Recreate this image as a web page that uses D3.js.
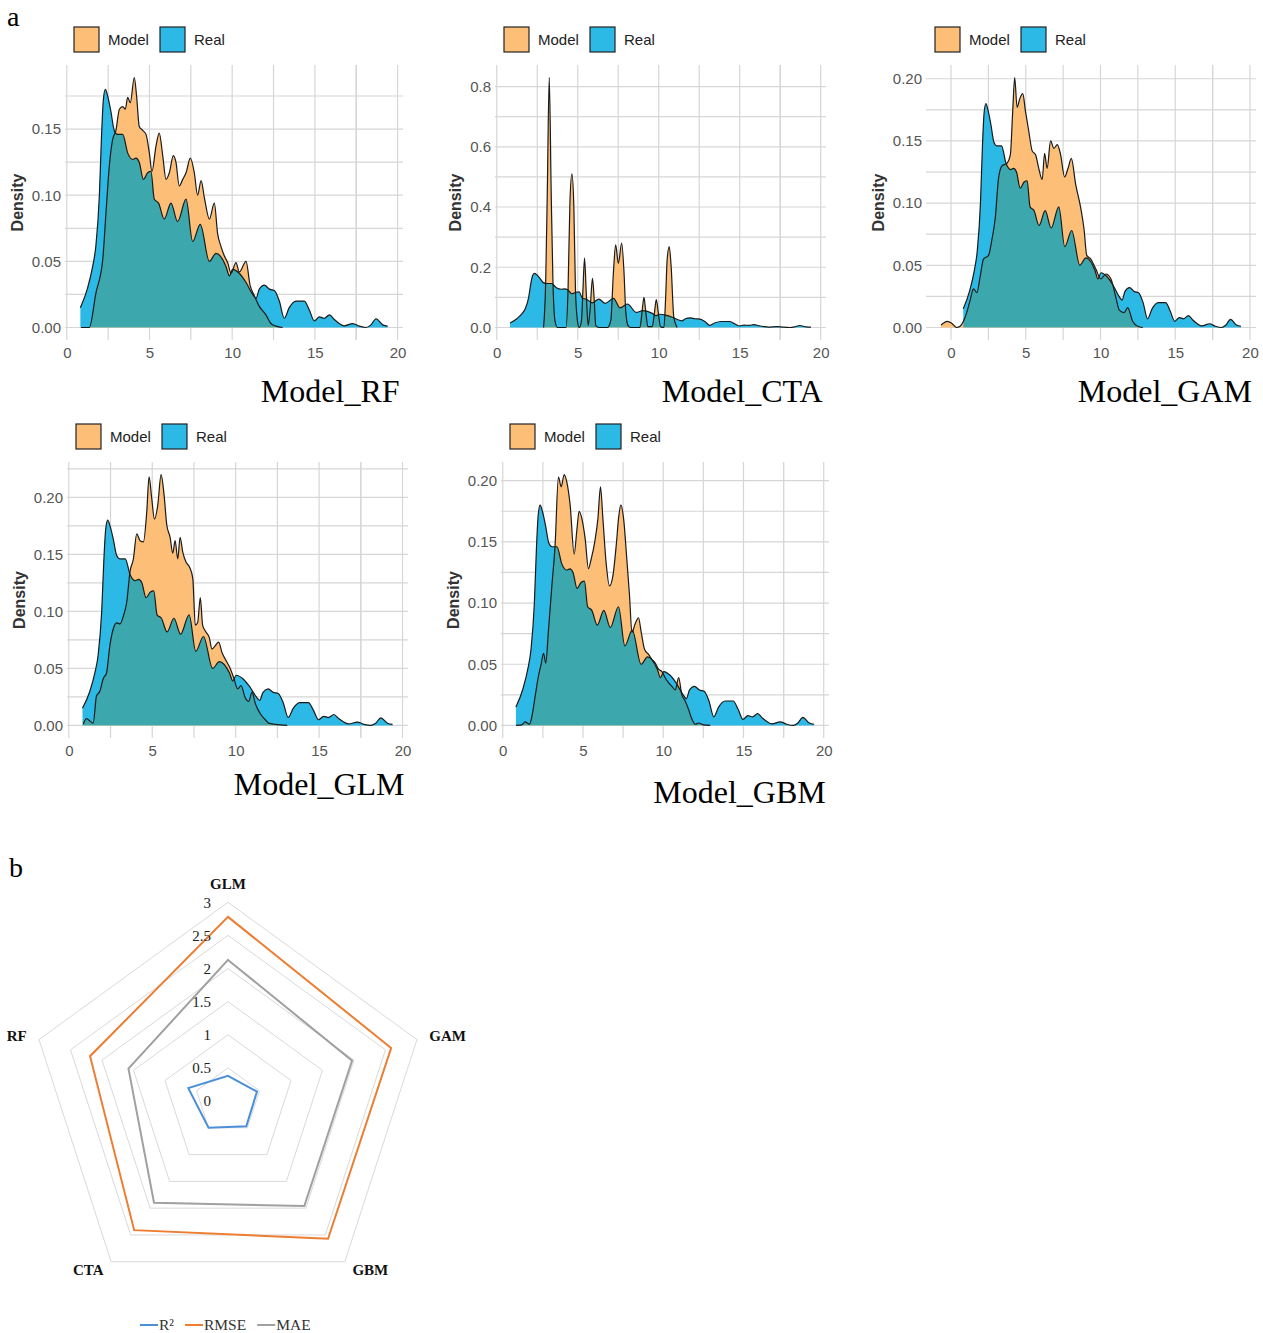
<!DOCTYPE html>
<html>
<head>
<meta charset="utf-8">
<script src="https://cdn.jsdelivr.net/npm/d3@7"></script>
<style>
  body { margin: 0; background: #fff; }
  svg { display: block; }
</style>
</head>
<body>
<svg id="chart" width="1263" height="1333"></svg>
<script>
// ---- data ----
// observed (Real) density, same in every panel: [x, density]
var realDensity = [
  [0.82, 0.015], [1.26, 0.030], [1.56, 0.046], [1.76, 0.062], [1.97, 0.100], [2.10, 0.145],
  [2.21, 0.172], [2.33, 0.180], [2.47, 0.175], [2.67, 0.163], [2.87, 0.149], [3.07, 0.146],
  [3.38, 0.146], [3.68, 0.132], [3.98, 0.127], [4.18, 0.128], [4.38, 0.125], [4.63, 0.112],
  [4.89, 0.117], [5.09, 0.118], [5.29, 0.097], [5.55, 0.094], [5.89, 0.082], [6.30, 0.094],
  [6.70, 0.080], [7.21, 0.097], [7.61, 0.065], [8.07, 0.078], [8.62, 0.050], [9.02, 0.056],
  [9.63, 0.046], [9.83, 0.039], [10.03, 0.044], [10.43, 0.041], [10.84, 0.034], [11.24, 0.025],
  [11.44, 0.022], [11.64, 0.029], [11.95, 0.032], [12.25, 0.029], [12.55, 0.028], [12.85, 0.020],
  [13.15, 0.007], [13.45, 0.015], [13.86, 0.020], [14.36, 0.020], [14.67, 0.013], [14.97, 0.005],
  [15.27, 0.008], [15.57, 0.007], [15.88, 0.0096], [16.18, 0.006], [16.48, 0.003], [16.78, 0.0013],
  [17.29, 0.003], [17.69, 0.001], [18.09, 0.0], [18.39, 0.002], [18.70, 0.0066], [19.10, 0.002],
  [19.40, 0.001]
]

var modelRF = [
  [0.86, 0], [1.36, 0], [1.76, 0.026], [2.17, 0.051], [2.37, 0.087], [2.57, 0.122], [2.77, 0.142],
  [2.97, 0.149], [3.18, 0.165], [3.38, 0.167], [3.54, 0.165], [3.68, 0.174], [3.84, 0.170],
  [4.08, 0.189], [4.22, 0.175], [4.38, 0.152], [4.59, 0.149], [4.79, 0.146], [4.99, 0.132],
  [5.15, 0.118], [5.39, 0.137], [5.59, 0.147], [5.80, 0.130], [6.00, 0.112], [6.20, 0.117],
  [6.44, 0.130], [6.60, 0.125], [6.80, 0.107], [7.01, 0.112], [7.21, 0.117], [7.47, 0.128],
  [7.71, 0.117], [7.91, 0.100], [8.12, 0.111], [8.32, 0.098], [8.62, 0.082], [8.92, 0.094],
  [9.12, 0.071], [9.33, 0.061], [9.53, 0.054], [9.73, 0.049], [9.93, 0.041], [10.23, 0.049],
  [10.43, 0.042], [10.84, 0.050], [11.08, 0.032], [11.34, 0.024], [11.64, 0.016], [12.04, 0.0096],
  [12.34, 0.003], [12.65, 0.001], [13.05, 0]
]

var modelCTA = [
  [2.89, 0], [3.02, 0.15], [3.12, 0.45], [3.24, 0.83], [3.36, 0.45], [3.47, 0.15], [3.60, 0.02],
  [3.75, 0], [4.27, 0], [4.40, 0.124], [4.52, 0.42], [4.64, 0.51], [4.76, 0.40], [4.86, 0.124],
  [4.98, 0.023], [5.09, 0], [5.23, 0.023], [5.32, 0.124], [5.42, 0.23], [5.53, 0.11], [5.64, 0.007],
  [5.76, 0.057], [5.91, 0.163], [6.02, 0.09], [6.11, 0.007], [6.32, 0], [6.83, 0], [7.04, 0.023],
  [7.20, 0.18], [7.34, 0.274], [7.51, 0.213], [7.71, 0.28], [7.86, 0.18], [7.96, 0.057],
  [8.10, 0.007], [8.27, 0], [8.84, 0], [8.98, 0.057], [9.09, 0.10], [9.19, 0.057], [9.33, 0.003],
  [9.60, 0.003], [9.74, 0.051], [9.85, 0.093], [9.97, 0.051], [10.11, 0.003], [10.32, 0],
  [10.42, 0.09], [10.52, 0.224], [10.65, 0.269], [10.77, 0.20], [10.93, 0.035], [11.14, 0]
]

var modelGAM = [
  [-0.67, 0.002], [-0.25, 0.005], [0.04, 0.0035], [0.38, 0], [0.61, 0.001], [0.83, 0.005],
  [1.05, 0.012], [1.28, 0.022], [1.50, 0.031], [1.73, 0.028], [1.95, 0.041], [2.17, 0.055],
  [2.51, 0.058], [2.74, 0.071], [2.96, 0.088], [3.18, 0.120], [3.41, 0.130], [3.74, 0.132],
  [3.97, 0.139], [4.12, 0.172], [4.26, 0.201], [4.42, 0.177], [4.60, 0.184], [4.80, 0.188],
  [4.98, 0.174], [5.20, 0.158], [5.43, 0.142], [5.65, 0.139], [5.87, 0.128], [6.10, 0.119],
  [6.26, 0.140], [6.43, 0.128], [6.66, 0.150], [6.88, 0.144], [7.11, 0.147], [7.33, 0.139],
  [7.60, 0.121], [7.83, 0.128], [8.05, 0.136], [8.34, 0.115], [8.68, 0.096], [8.90, 0.079],
  [9.08, 0.058], [9.35, 0.055], [9.69, 0.047], [10.02, 0.039], [10.36, 0.043], [10.70, 0.039],
  [11.03, 0.024], [11.26, 0.014], [11.59, 0.012], [11.82, 0.016], [12.15, 0.005], [12.49, 0.001],
  [12.83, 0]
]

var modelGLM = [
  [0.86, 0.001], [1.06, 0.006], [1.26, 0.004], [1.46, 0.002], [1.66, 0.026], [1.86, 0.030],
  [2.06, 0.041], [2.26, 0.046], [2.46, 0.070], [2.67, 0.085], [2.87, 0.090], [3.07, 0.089],
  [3.27, 0.096], [3.47, 0.108], [3.67, 0.135], [3.87, 0.146], [4.07, 0.168], [4.27, 0.162],
  [4.47, 0.161], [4.67, 0.187], [4.81, 0.218], [4.97, 0.199], [5.13, 0.181], [5.33, 0.193],
  [5.53, 0.220], [5.71, 0.202], [5.87, 0.176], [6.07, 0.165], [6.23, 0.151], [6.37, 0.162],
  [6.53, 0.146], [6.67, 0.165], [6.83, 0.152], [7.03, 0.143], [7.23, 0.139], [7.43, 0.129],
  [7.58, 0.088], [7.72, 0.090], [7.88, 0.112], [8.02, 0.088], [8.22, 0.082], [8.42, 0.077],
  [8.58, 0.067], [8.78, 0.070], [8.98, 0.073], [9.18, 0.064], [9.38, 0.058], [9.64, 0.051],
  [9.88, 0.042], [10.12, 0.032], [10.32, 0.035], [10.58, 0.024], [10.78, 0.021], [10.98, 0.029],
  [11.18, 0.019], [11.49, 0.010], [11.78, 0.005], [11.98, 0.002], [12.38, 0.001], [13.09, 0]
]

var modelGBM = [
  [0.83, 0], [1.19, 0.0005], [1.39, 0.003], [1.66, 0.001], [1.81, 0.007], [2.02, 0.024],
  [2.22, 0.040], [2.39, 0.050], [2.54, 0.059], [2.68, 0.051], [2.85, 0.078], [3.06, 0.114],
  [3.26, 0.147], [3.47, 0.203], [3.64, 0.195], [3.83, 0.205], [3.99, 0.199], [4.20, 0.180],
  [4.45, 0.140], [4.62, 0.160], [4.76, 0.175], [4.93, 0.169], [5.14, 0.152], [5.34, 0.128],
  [5.51, 0.136], [5.72, 0.149], [5.93, 0.169], [6.09, 0.195], [6.24, 0.169], [6.44, 0.133],
  [6.65, 0.114], [6.86, 0.122], [7.07, 0.147], [7.23, 0.171], [7.36, 0.180], [7.53, 0.169],
  [7.73, 0.136], [7.90, 0.106], [8.05, 0.076], [8.25, 0.083], [8.46, 0.088], [8.63, 0.076],
  [8.84, 0.062], [9.09, 0.058], [9.29, 0.054], [9.50, 0.051], [9.71, 0.046], [9.92, 0.044],
  [10.12, 0.039], [10.33, 0.035], [10.54, 0.032], [10.75, 0.029], [10.96, 0.039], [11.16, 0.025],
  [11.37, 0.020], [11.58, 0.013], [11.79, 0.005], [12.00, 0.001], [12.20, 0.002], [12.52, 0.0005],
  [12.93, 0]
]

var panelNames = ['Model_RF', 'Model_CTA', 'Model_GAM', 'Model_GLM', 'Model_GBM']
var modelSeries = [modelRF, modelCTA, modelGAM, modelGLM, modelGBM]
var xTickValues = [0, 5, 10, 15, 20]
var yTickValues = [
  [0, 0.05, 0.1, 0.15],
  [0, 0.2, 0.4, 0.6, 0.8],
  [0, 0.05, 0.1, 0.15, 0.2],
  [0, 0.05, 0.1, 0.15, 0.2],
  [0, 0.05, 0.1, 0.15, 0.2]
]
var yTickFormats = ['.2f', '.1f', '.2f', '.2f', '.2f']
var legendLabels = ['Model', 'Real']

// radar (panel b)
var radarAxes = ['GLM', 'GAM', 'GBM', 'CTA', 'RF']
var radarLevels = [0, 0.5, 1, 1.5, 2, 2.5, 3]
var r2Values = [0.38, 0.46, 0.47, 0.50, 0.63]
var rmseValues = [2.78, 2.59, 2.57, 2.41, 2.19]
var maeValues = [2.13, 1.97, 1.96, 1.90, 1.58]
var metricNames = ['R²', 'RMSE', 'MAE']

// ---- layout / style ----
var panelBoxes = [
  { left: 65, right: 403, top: 65, bottom: 340, titleY: 402 },
  { left: 495, right: 826, top: 65, bottom: 340, titleY: 402 },
  { left: 926, right: 1256, top: 65, bottom: 340, titleY: 402 },
  { left: 67, right: 408, top: 462, bottom: 738, titleY: 795 },
  { left: 501, right: 829, top: 462, bottom: 738, titleY: 803 }
]
var COLOR = {
  MODEL: '#fdbf78',
  REAL: '#2cb9e5',
  BOTH: '#3ca7ad',
  GRID: '#d6d6d6',
  TICK: '#555555'
}
var SANS = 'Arial, "Liberation Sans", sans-serif'
var SERIF = '"Times New Roman", "Liberation Serif", serif'

var svg = d3.select('#chart')

svg.append('text').attr('x', 7).attr('y', 26)
  .style('font-family', SERIF).style('font-size', '28px').text('a')
svg.append('text').attr('x', 9).attr('y', 877)
  .style('font-family', SERIF).style('font-size', '28px').text('b')

// ---- density panels ----
panelNames.forEach(function (name, i) {
  var box = panelBoxes[i]
  var model = modelSeries[i]
  var all = realDensity.concat(model)

  var xExt = d3.extent(all, d => d[0])
  var xPad = (xExt[1] - xExt[0]) * 0.05
  var yMax = d3.max(all, d => d[1])

  var x = d3.scaleLinear()
    .domain([xExt[0] - xPad, xExt[1] + xPad])
    .range([box.left, box.right])
  var y = d3.scaleLinear()
    .domain([-yMax * 0.05, yMax * 1.05])
    .range([box.bottom, box.top])

  var g = svg.append('g')

  // grid (major + minor)
  var xd = x.domain(), yd = y.domain()
  var xMinor = xTickValues.map(v => v - 2.5).concat([17.5]).filter(v => v >= xd[0] && v <= xd[1])
  var xMajor = xTickValues.filter(v => v >= xd[0] && v <= xd[1])
  var yt = yTickValues[i]
  var yStep = yt[1] - yt[0]
  var yMinor = yt.map(v => v + yStep / 2).filter(v => v <= yd[1])

  g.selectAll('.vgrid').data(xMinor.concat(xMajor)).enter().append('line')
    .attr('x1', d => x(d)).attr('x2', d => x(d))
    .attr('y1', box.top).attr('y2', box.bottom)
    .attr('stroke', COLOR.GRID).attr('stroke-width', 1.2)
  g.selectAll('.hgrid').data(yMinor.concat(yt)).enter().append('line')
    .attr('x1', box.left).attr('x2', box.right)
    .attr('y1', d => y(d)).attr('y2', d => y(d))
    .attr('stroke', COLOR.GRID).attr('stroke-width', 1.2)

  // areas
  var area = d3.area().x(d => x(d[0])).y0(y(0)).y1(d => y(d[1])).curve(d3.curveMonotoneX)
  var line = d3.line().x(d => x(d[0])).y(d => y(d[1])).curve(d3.curveMonotoneX)

  var clipId = 'real-clip-' + i
  svg.append('clipPath').attr('id', clipId)
    .append('path').attr('d', area(realDensity))

  g.append('path').attr('d', area(realDensity)).attr('fill', COLOR.REAL)
  g.append('path').attr('d', area(model)).attr('fill', COLOR.MODEL)
  g.append('path').attr('d', area(model)).attr('fill', COLOR.BOTH)
    .attr('clip-path', 'url(#' + clipId + ')')

  g.append('path').attr('d', line(realDensity))
    .attr('fill', 'none').attr('stroke', '#1a1a1a').attr('stroke-width', 1.2)
  g.append('path').attr('d', line(model))
    .attr('fill', 'none').attr('stroke', '#1a1a1a').attr('stroke-width', 1.2)

  // axes (no lines, labels only)
  var xAxis = g.append('g')
    .attr('transform', 'translate(0,' + box.bottom + ')')
    .call(d3.axisBottom(x).tickValues(xTickValues).tickSize(0).tickPadding(7))
  xAxis.select('.domain').remove()

  var yAxis = g.append('g')
    .attr('transform', 'translate(' + box.left + ',0)')
    .call(d3.axisLeft(y).tickValues(yt).tickFormat(d3.format(yTickFormats[i])).tickSize(0).tickPadding(4))
  yAxis.select('.domain').remove()

  g.selectAll('.tick text')
    .style('font-family', SANS).style('font-size', '15px').attr('fill', COLOR.TICK)

  var yb = yAxis.node().getBBox()
  var labX = box.left + yb.x - 9
  g.append('text')
    .attr('transform', 'translate(' + labX + ',' + (box.top + box.bottom) / 2 + ') rotate(-90)')
    .attr('text-anchor', 'middle')
    .style('font-family', SANS).style('font-size', '16px').style('font-weight', 'bold')
    .attr('fill', '#333')
    .text('Density')

  // legend
  var lg = g.append('g').attr('transform', 'translate(' + (box.left + 9) + ',' + (box.top - 38) + ')')
  var legendFills = [COLOR.MODEL, COLOR.REAL]
  var legendX = [0, 86]
  legendLabels.forEach(function (lab, k) {
    lg.append('rect').attr('x', legendX[k]).attr('y', 0).attr('width', 25).attr('height', 25)
      .attr('fill', legendFills[k]).attr('stroke', '#222').attr('stroke-width', 1.2)
    lg.append('text').attr('x', legendX[k] + 34).attr('y', 12.5).attr('dy', '0.35em')
      .style('font-family', SANS).style('font-size', '15px').attr('fill', '#222')
      .text(lab)
  })

  // title
  g.append('text')
    .attr('x', x(20) + 2).attr('y', box.titleY)
    .attr('text-anchor', 'end')
    .style('font-family', SERIF).style('font-size', '32px').attr('fill', '#000')
    .text(name)
})

// ---- radar chart ----
var cx = 228, cy = 1101, R = 198.7
var rScale = d3.scaleLinear().domain([0, 3]).range([0, R])
var angleStep = 2 * Math.PI / radarAxes.length
var radial = d3.lineRadial()
  .angle((d, i) => i * angleStep)
  .radius(d => rScale(d))
  .curve(d3.curveLinearClosed)

var rg = svg.append('g').attr('transform', 'translate(' + cx + ',' + cy + ')')

rg.selectAll('.ring').data(radarLevels.filter(l => l > 0)).enter().append('path')
  .attr('d', l => radial(radarAxes.map(() => l)))
  .attr('fill', 'none').attr('stroke', '#d9d9d9').attr('stroke-width', 1)

var metricSeries = [r2Values, rmseValues, maeValues]
var metricColors = ['#4a8fd8', '#ed7d31', '#a0a0a0']
metricSeries.forEach(function (vals, k) {
  rg.append('path').attr('d', radial(vals))
    .attr('fill', 'none').attr('stroke', metricColors[k]).attr('stroke-width', 2)
    .attr('stroke-linejoin', 'miter')
})

rg.selectAll('.lvl').data(radarLevels).enter().append('text')
  .attr('x', -17).attr('y', l => -rScale(l)).attr('dy', '0.35em')
  .attr('text-anchor', 'end')
  .style('font-family', SERIF).style('font-size', '15px').attr('fill', '#222')
  .text(l => l)

radarAxes.forEach(function (name, i) {
  var a = i * angleStep
  var lr = R + 13
  var px = lr * Math.sin(a), py = -lr * Math.cos(a)
  var anchor = Math.abs(px) < 1 ? 'middle' : (px > 0 ? 'start' : 'end')
  var dy = i === 0 ? '0' : (py < 0 ? '0.35em' : '0.2em')
  rg.append('text').attr('x', px).attr('y', py).attr('dy', dy)
    .attr('text-anchor', anchor)
    .style('font-family', SERIF).style('font-size', '15px').style('font-weight', 'bold')
    .attr('fill', '#111')
    .text(name)
})

// legend under radar
var lx = 140, ly = 1325
metricNames.forEach(function (name, k) {
  svg.append('line').attr('x1', lx).attr('x2', lx + 18).attr('y1', ly).attr('y2', ly)
    .attr('stroke', metricColors[k]).attr('stroke-width', 2)
  var t = svg.append('text').attr('x', lx + 19).attr('y', ly + 5)
    .style('font-family', SERIF).style('font-size', '15.5px').attr('fill', '#333')
    .text(name)
  lx = lx + 19 + t.node().getComputedTextLength() + 11
})
</script>
</body>
</html>
